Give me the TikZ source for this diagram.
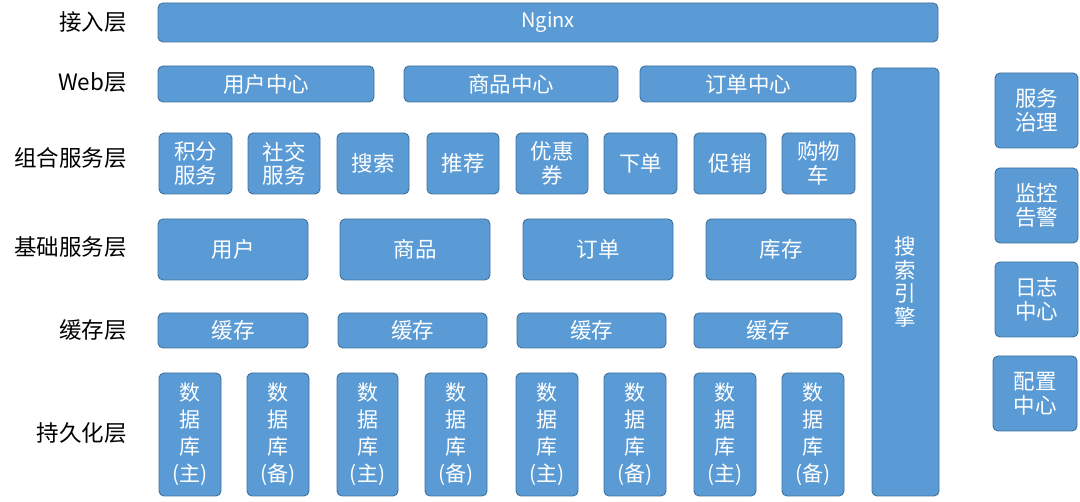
\documentclass[tikz,border=0pt]{standalone}
\usepackage{fontspec}
\setmainfont{Noto Sans CJK SC}
\definecolor{boxblue}{HTML}{5B9BD5}
\definecolor{boxedge}{HTML}{41719C}
\tikzset{
  box/.style={draw=boxedge, fill=boxblue, line width=0.9pt, rounded corners=5pt,
    text=white, align=center, inner sep=0pt, font=\fontsize{21.5}{23.5}\selectfont},
  dbtext/.style={font=\fontsize{21}{27}\selectfont},
  layerlabel/.style={anchor=east, inner sep=0pt, font=\fontsize{22.5}{24}\selectfont, text=black}
}
\newcommand{\bx}[6][]{%
  \node[box,#1, minimum width={(#4-#2)*1pt}, minimum height={(#5-#3)*1pt}]
    (#6) at ({(#2+#4)/2},{(#3+#5)/2})}
\begin{document}
\begin{tikzpicture}[x=1pt,y=-1pt]
\useasboundingbox (0,0) rectangle (1080,502);
% layer labels
\node[layerlabel] (l1) at (127,22) {接入层};
\node[layerlabel] (l2) at (127,83) {Web层};
\node[layerlabel] (l3) at (127,158) {组合服务层};
\node[layerlabel] (l4) at (127,247) {基础服务层};
\node[layerlabel] (l5) at (127,330) {缓存层};
\node[layerlabel] (l6) at (127,433) {持久化层};
% access
\bx[font=\fontsize{20}{22}\selectfont]{158}{3}{938}{42}{nginx} {Nginx};
% web
\bx{158}{66}{374}{102}{web1} {用户中心};
\bx{404}{66}{618}{102}{web2} {商品中心};
\bx{640}{66}{856}{102}{web3} {订单中心};
% composite
\bx{159}{133}{232}{194}{c1} {积分\\服务};
\bx{248}{133}{320}{194}{c2} {社交\\服务};
\bx{337}{133}{409}{194}{c3} {搜索};
\bx{427}{133}{499}{194}{c4} {推荐};
\bx{516}{133}{588}{194}{c5} {优惠\\券};
\bx{604}{133}{677}{194}{c6} {下单};
\bx{694}{133}{766}{194}{c7} {促销};
\bx{782}{133}{855}{194}{c8} {购物\\车};
% base
\bx{158}{219}{308}{280}{b1} {用户};
\bx{340}{219}{490}{280}{b2} {商品};
\bx{523}{219}{673}{280}{b3} {订单};
\bx{706}{219}{856}{280}{b4} {库存};
% cache
\bx{158}{313}{308}{348}{k1} {缓存};
\bx{338}{313}{487}{348}{k2} {缓存};
\bx{517}{313}{666}{348}{k3} {缓存};
\bx{694}{313}{842}{348}{k4} {缓存};
% persistence
\bx[dbtext]{159}{373}{221}{496}{d1} {数\\据\\库\\(主)};
\bx[dbtext]{247}{373}{309}{496}{d2} {数\\据\\库\\(备)};
\bx[dbtext]{337}{373}{398}{496}{d3} {数\\据\\库\\(主)};
\bx[dbtext]{425}{373}{487}{496}{d4} {数\\据\\库\\(备)};
\bx[dbtext]{516}{373}{578}{496}{d5} {数\\据\\库\\(主)};
\bx[dbtext]{604}{373}{666}{496}{d6} {数\\据\\库\\(备)};
\bx[dbtext]{694}{373}{756}{496}{d7} {数\\据\\库\\(主)};
\bx[dbtext]{782}{373}{844}{496}{d8} {数\\据\\库\\(备)};
% search engine
\bx{872}{68}{939}{496}{se} {搜\\索\\引\\擎};
% right side
\bx{995}{73}{1078}{148}{r1} {服务\\治理};
\bx{995}{168}{1078}{243}{r2} {监控\\告警};
\bx{995}{262}{1078}{337}{r3} {日志\\中心};
\bx{993}{356}{1077}{431}{r4} {配置\\中心};
\end{tikzpicture}
\end{document}
